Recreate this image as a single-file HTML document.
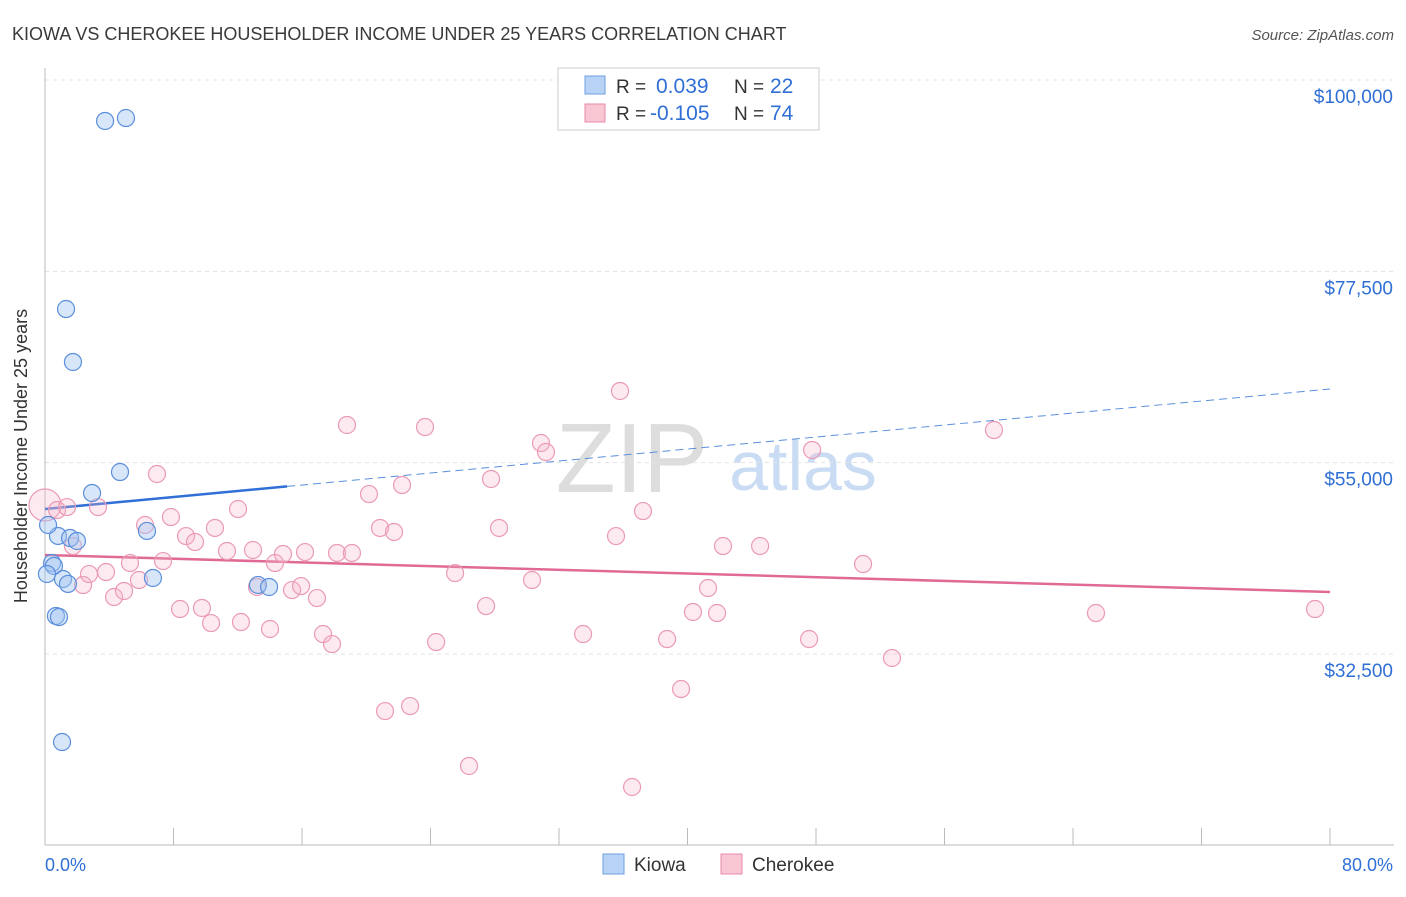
<!DOCTYPE html>
<html><head><meta charset="utf-8"><style>
body{margin:0;background:#fff;font-family:"Liberation Sans",sans-serif;}
svg text{font-family:"Liberation Sans",sans-serif;}
</style></head><body>
<svg id="chart" width="1406" height="892">
<text x="12" y="40" font-size="18" fill="#3a3a3a">KIOWA VS CHEROKEE HOUSEHOLDER INCOME UNDER 25 YEARS CORRELATION CHART</text>
<text x="1394" y="40" font-size="15" fill="#555" font-style="italic" text-anchor="end">Source: ZipAtlas.com</text>
<text x="27" y="456" font-size="18" fill="#333" text-anchor="middle" transform="rotate(-90 27 456)">Householder Income Under 25 years</text>
<text x="632" y="492" font-size="98" fill="#ddd" font-family="Liberation Serif" text-anchor="middle">ZIP</text>
<text x="803" y="490" font-size="70" fill="#c9dcf3" text-anchor="middle">atlas</text>
<g id="grid"></g><g id="axes"></g><g id="trend"></g><g id="pts"></g>
<g>
<rect x="558" y="68" width="261" height="62" fill="#fff" stroke="#ccc"/>
<rect x="585" y="76" width="20" height="18" fill="#b8d3f5" stroke="#6d9fe0"/>
<rect x="585" y="104" width="20" height="18" fill="#f9c6d4" stroke="#e88aa8"/>
<text x="616" y="93" font-size="19" fill="#333">R = </text><text x="656" y="93" font-size="21" fill="#2f6fd6">0.039</text>
<text x="734" y="93" font-size="19" fill="#333">N = </text><text x="770" y="93" font-size="21" fill="#2f6fd6">22</text>
<text x="616" y="120" font-size="19" fill="#333">R = </text><text x="650" y="120" font-size="21" fill="#2f6fd6">-0.105</text>
<text x="734" y="120" font-size="19" fill="#333">N = </text><text x="770" y="120" font-size="21" fill="#2f6fd6">74</text>
</g>
<g>
<rect x="603" y="854" width="21" height="20" fill="#b8d3f5" stroke="#6d9fe0"/>
<text x="634" y="871" font-size="19" fill="#333">Kiowa</text>
<rect x="721" y="854" width="21" height="20" fill="#f9c6d4" stroke="#e88aa8"/>
<text x="752" y="871" font-size="19" fill="#333">Cherokee</text>
</g>
<text x="45" y="871" font-size="18" fill="#2f6fd6">0.0%</text>
<text x="1393" y="871" font-size="18" fill="#2f6fd6" text-anchor="end">80.0%</text>
</svg>
<script>
const yTicks=[100000,77500,55000,32500];
const yTickLabels=["$100,000","$77,500","$55,000","$32,500"];
const kiowaX=[3.74,5.04,1.31,1.74,4.67,2.93,6.35,0.81,1.56,1.99,0.19,0.44,0.56,0.12,1.12,1.43,6.72,13.26,13.95,0.68,0.87,1.06];
const kiowaY=[95180,95530,73070,66840,53900,51430,46970,46380,46140,45790,47670,43200,42850,41910,41320,40740,41440,40620,40380,36970,36850,22150];
const cherX=[0,0.75,1.37,3.30,1.74,2.37,2.74,3.80,4.30,4.92,5.29,6.23,5.85,6.97,7.35,7.84,8.41,8.78,9.34,9.77,10.34,10.58,11.33,12.02,12.20,12.95,13.20,14.01,14.32,14.82,15.38,15.94,16.19,16.93,17.31,17.87,18.18,18.80,19.11,20.17,20.86,21.17,21.73,22.23,22.73,23.66,24.35,25.53,26.40,27.46,27.77,28.27,30.32,30.88,31.19,33.50,35.55,35.80,36.55,37.23,38.73,39.60,40.34,41.28,41.84,42.21,44.52,47.57,47.76,50.93,52.73,59.08,65.43,79.07];
const cherY=[50020,49430,49780,49780,45200,40610,41900,42140,39200,39910,43200,47670,41200,53670,43430,48610,37790,46370,45670,37910,36140,47320,44610,49550,36260,44730,40380,35440,43200,44260,40020,40490,44490,39080,34850,33670,44380,59430,44380,51310,47320,25790,46850,52370,26380,59190,33910,42020,19330,38140,53080,47320,41200,57310,56250,34850,46370,63430,16860,49310,34260,28380,37440,40260,37320,45200,45200,34260,56490,43080,32030,58840,37320,37790];
const kiowaTrend=[49550,63660]; const kiowaSolidEnd=15.07;
const cherTrend=[44140,39790];
const sx=v=>45+v/80*1285, sy=v=>80+(100000-v)/67500*574;
const NS="http://www.w3.org/2000/svg";
function mk(p,t,a){const e=document.createElementNS(NS,t);for(const k in a)e.setAttribute(k,a[k]);document.getElementById(p).appendChild(e);return e;}
yTicks.forEach((v,i)=>{
 const l=mk('grid','line',{x1:45,x2:1394,y1:sy(v),y2:sy(v),stroke:'#e3e3e3','stroke-dasharray':'4,4'});
 
 
 const t=mk('grid','text',{x:1393,y:sy(v)+23,'font-size':19,fill:'#2f6fd6','text-anchor':'end'});
 t.textContent=yTickLabels[i];
 
 
});
const ax=mk('axes','line',{x1:45,x2:45,y1:68,y2:845,stroke:'#bbb'});


const bx=mk('axes','line',{x1:45,x2:1394,y1:845,y2:845,stroke:'#bbb'});


for(let i=0;i<=10;i++){const tk=mk('axes','line',{x1:sx(i*8),x2:sx(i*8),y1:828,y2:845,stroke:'#bbb'});
 
 }
const kt=v=>kiowaTrend[0]+(kiowaTrend[1]-kiowaTrend[0])*v/80;
const k1=mk('trend','line',{x1:sx(0),y1:sy(kt(0)),x2:sx(kiowaSolidEnd),y2:sy(kt(kiowaSolidEnd)),stroke:'#2f6fd6','stroke-width':2.5});


const k2=mk('trend','line',{x1:sx(kiowaSolidEnd),y1:sy(kt(kiowaSolidEnd)),x2:sx(80),y2:sy(kt(80)),stroke:'#5b8fdc','stroke-width':1,'stroke-dasharray':'8,5'});


const c1=mk('trend','line',{x1:sx(0),y1:sy(cherTrend[0]),x2:sx(80),y2:sy(cherTrend[1]),stroke:'#e06a95','stroke-width':2.5});


cherX.forEach((x,i)=>{const c=mk('pts','circle',{cx:sx(x),cy:sy(cherY[i]),r:i==0?16:8.5,fill:'rgba(246,180,202,0.28)',stroke:'#eb9ab5','stroke-width':1.2});
 
 });
kiowaX.forEach((x,i)=>{const c=mk('pts','circle',{cx:sx(x),cy:sy(kiowaY[i]),r:8.5,fill:'rgba(160,196,240,0.42)',stroke:'#5b8fdc','stroke-width':1.2});
 
 });
</script>
</body></html>
